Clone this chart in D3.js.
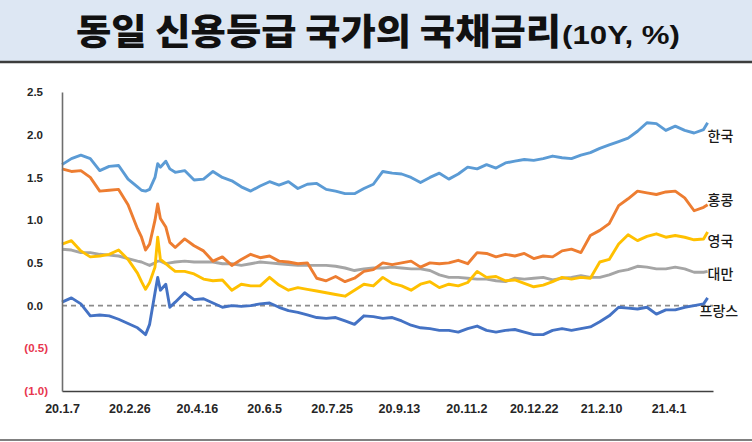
<!DOCTYPE html>
<html>
<head>
<meta charset="utf-8">
<script src="https://cdn.jsdelivr.net/npm/d3@7"></script>
<style>
  body { margin: 0; background: #fff; }
  svg { display: block; }
</style>
</head>
<body>
<svg id="paper"></svg>
<script>
// weekly samples (extra points around the March 2020 spike)
var dates = [
  "2020-01-07","2020-01-14","2020-01-21","2020-01-28","2020-02-04","2020-02-11","2020-02-18","2020-02-25",
  "2020-03-03","2020-03-06","2020-03-09","2020-03-12","2020-03-16","2020-03-18","2020-03-20","2020-03-24",
  "2020-03-27","2020-03-31","2020-04-07","2020-04-14","2020-04-21","2020-04-28","2020-05-05","2020-05-12",
  "2020-05-19","2020-05-26","2020-06-02","2020-06-09","2020-06-16","2020-06-23","2020-06-30","2020-07-07",
  "2020-07-14","2020-07-21","2020-07-28","2020-08-04","2020-08-11","2020-08-18","2020-08-25","2020-09-01",
  "2020-09-08","2020-09-15","2020-09-22","2020-09-29","2020-10-06","2020-10-13","2020-10-20","2020-10-27",
  "2020-11-03","2020-11-10","2020-11-17","2020-11-24","2020-12-01","2020-12-08","2020-12-15","2020-12-22",
  "2020-12-29","2021-01-05","2021-01-12","2021-01-19","2021-01-26","2021-02-02","2021-02-09","2021-02-16",
  "2021-02-23","2021-03-02","2021-03-09","2021-03-16","2021-03-23","2021-03-30","2021-04-06","2021-04-13",
  "2021-04-20","2021-04-27","2021-04-30"
];

var korea = [
  1.65,1.72,1.76,1.72,1.58,1.63,1.64,1.48,1.39,1.35,
  1.34,1.36,1.50,1.66,1.62,1.69,1.60,1.56,1.58,1.47,
  1.48,1.57,1.50,1.46,1.39,1.34,1.40,1.45,1.41,1.45,
  1.37,1.42,1.43,1.36,1.34,1.31,1.31,1.37,1.42,1.57,
  1.55,1.54,1.50,1.44,1.50,1.55,1.48,1.54,1.62,1.60,
  1.65,1.61,1.67,1.69,1.71,1.70,1.72,1.75,1.73,1.72,
  1.76,1.79,1.84,1.88,1.92,1.96,2.04,2.14,2.13,2.05,
  2.10,2.05,2.02,2.06,2.14
];
var hongkong = [
  1.60,1.57,1.58,1.50,1.34,1.35,1.36,1.18,0.90,0.80,
  0.65,0.72,1.00,1.19,1.02,0.92,0.74,0.68,0.78,0.70,
  0.64,0.52,0.57,0.47,0.54,0.60,0.56,0.58,0.52,0.51,
  0.49,0.50,0.32,0.29,0.34,0.28,0.32,0.40,0.42,0.50,
  0.48,0.50,0.52,0.45,0.50,0.49,0.50,0.53,0.49,0.62,
  0.61,0.57,0.60,0.58,0.61,0.55,0.58,0.57,0.64,0.66,
  0.62,0.82,0.88,0.96,1.17,1.25,1.34,1.32,1.30,1.33,
  1.34,1.26,1.11,1.15,1.18
];
var uk = [
  0.72,0.76,0.64,0.57,0.58,0.60,0.65,0.54,0.38,0.28,
  0.19,0.27,0.45,0.80,0.54,0.49,0.45,0.40,0.40,0.37,
  0.31,0.29,0.30,0.18,0.25,0.23,0.23,0.33,0.24,0.18,
  0.21,0.19,0.17,0.15,0.13,0.11,0.18,0.25,0.23,0.33,
  0.26,0.23,0.18,0.25,0.28,0.21,0.25,0.23,0.27,0.40,
  0.33,0.34,0.29,0.30,0.26,0.22,0.24,0.28,0.33,0.31,
  0.33,0.32,0.51,0.54,0.72,0.83,0.76,0.81,0.84,0.80,
  0.82,0.80,0.77,0.78,0.86
];
var taiwan = [
  0.66,0.65,0.62,0.62,0.60,0.59,0.58,0.55,0.52,0.51,
  0.49,0.47,0.50,0.52,0.52,0.49,0.50,0.51,0.52,0.51,
  0.51,0.51,0.49,0.49,0.47,0.49,0.51,0.50,0.49,0.48,
  0.47,0.47,0.47,0.47,0.46,0.44,0.41,0.43,0.44,0.44,
  0.45,0.44,0.43,0.43,0.41,0.36,0.33,0.33,0.32,0.31,
  0.31,0.29,0.28,0.32,0.31,0.32,0.33,0.30,0.32,0.33,
  0.35,0.33,0.33,0.36,0.40,0.42,0.46,0.45,0.43,0.43,
  0.45,0.43,0.39,0.39,0.40
];
var france = [
  0.04,0.09,0.02,-0.12,-0.11,-0.12,-0.16,-0.21,-0.26,-0.30,
  -0.34,-0.22,0.15,0.33,0.18,0.25,-0.02,0.04,0.15,0.07,
  0.08,0.03,-0.02,0.00,-0.01,0.00,0.02,0.03,-0.02,-0.06,
  -0.08,-0.11,-0.14,-0.15,-0.14,-0.18,-0.22,-0.12,-0.13,-0.15,
  -0.14,-0.18,-0.23,-0.26,-0.27,-0.29,-0.29,-0.31,-0.27,-0.24,
  -0.29,-0.31,-0.29,-0.28,-0.31,-0.34,-0.34,-0.29,-0.27,-0.29,
  -0.27,-0.25,-0.19,-0.12,-0.02,-0.03,-0.04,-0.02,-0.10,-0.05,
  -0.05,-0.02,0.00,0.02,0.09
];

var xTicks = ["2020-01-07","2020-02-26","2020-04-16","2020-06-05","2020-07-25","2020-09-13",
              "2020-11-02","2020-12-22","2021-02-10","2021-04-01"];
var yTicks = [-1.0, -0.5, 0.0, 0.5, 1.0, 1.5, 2.0, 2.5];

// drawing order, colours and label nudges
var series = [
  {name: "대만",   values: taiwan,   color: "#a5a5a5", dx: 0,  dy: 8},
  {name: "한국",   values: korea,    color: "#5b9bd5", dx: 0,  dy: 18},
  {name: "홍콩",   values: hongkong, color: "#ed7d31", dx: 0,  dy: 0},
  {name: "영국",   values: uk,       color: "#ffc000", dx: 0,  dy: 14},
  {name: "프랑스", values: france,   color: "#4472c4", dx: -8, dy: 18}
];

var width = 752, height = 442;
var parse = d3.timeParse("%Y-%m-%d");

var svg = d3.select("#paper")
    .attr("width", width)
    .attr("height", height);

// title band
svg.append("rect")
    .attr("x", 0).attr("y", 0)
    .attr("width", width).attr("height", 61)
    .attr("fill", "#dde7f3");
svg.append("line")
    .attr("x1", 0).attr("x2", width)
    .attr("y1", 62).attr("y2", 62)
    .attr("stroke", "#3c3c3c").attr("stroke-width", 2.5);
svg.append("line")
    .attr("x1", 0).attr("x2", width)
    .attr("y1", 440).attr("y2", 440)
    .attr("stroke", "#808080").attr("stroke-width", 2);

svg.append("text")
    .attr("x", 76).attr("y", 45)
    .attr("textLength", 485)
    .attr("lengthAdjust", "spacingAndGlyphs")
    .style("font-family", "'Noto Sans CJK KR', sans-serif")
    .style("font-weight", 900)
    .style("font-size", "36px")
    .attr("fill", "#111")
    .text("동일 신용등급 국가의 국채금리");
svg.append("text")
    .attr("x", 562).attr("y", 44)
    .attr("textLength", 118)
    .attr("lengthAdjust", "spacingAndGlyphs")
    .style("font-family", "'Liberation Sans Narrow', 'Liberation Sans', sans-serif")
    .style("font-weight", 700)
    .style("font-size", "25px")
    .attr("fill", "#111")
    .text("(10Y, %)");

// scales
var x = d3.scaleTime()
    .domain([parse("2020-01-07"), parse("2021-05-04")])
    .range([62, 713]);
var y = d3.scaleLinear()
    .domain([-1, 2.5])
    .range([391, 92]);

// zero line
svg.append("line")
    .attr("x1", x.range()[0]).attr("x2", x.range()[1])
    .attr("y1", y(0)).attr("y2", y(0))
    .attr("stroke", "#8c8c8c")
    .attr("stroke-width", 1.8)
    .attr("stroke-dasharray", "5,4");

// lines
var line = d3.line()
    .x(function (d) { return x(d.date); })
    .y(function (d) { return y(d.value); });

series.forEach(function (s) {
    s.points = dates.map(function (d, i) {
        return {date: parse(d), value: s.values[i]};
    });
    svg.append("path")
        .datum(s.points)
        .attr("fill", "none")
        .attr("stroke", s.color)
        .attr("stroke-width", 2.9)
        .attr("stroke-linejoin", "round")
        .attr("d", line);
});

// axes
var fmtDate = d3.timeFormat("%y.%-m.%-d");
var xAxis = svg.append("g")
    .attr("transform", "translate(0," + y(-1) + ")")
    .call(d3.axisBottom(x)
        .tickValues(xTicks.map(parse))
        .tickFormat(fmtDate)
        .tickSize(0)
        .tickSizeOuter(0)
        .tickPadding(13));
xAxis.select(".domain").attr("stroke", "#404040").attr("stroke-width", 1.6);
xAxis.selectAll("text")
    .style("font-family", "'Liberation Sans', Arial, sans-serif")
    .style("font-weight", 700)
    .style("font-size", "12.5px")
    .attr("fill", "#262626");

var yAxis = svg.append("g")
    .attr("transform", "translate(" + x.range()[0] + ",0)")
    .call(d3.axisLeft(y)
        .tickValues(yTicks)
        .tickFormat(function (v) {
            return v < 0 ? "(" + Math.abs(v).toFixed(1) + ")" : v.toFixed(1);
        })
        .tickSize(0)
        .tickSizeOuter(0)
        .tickPadding(14));
yAxis.select(".domain").attr("stroke", "#6e6e6e").attr("stroke-width", 1.6);
yAxis.selectAll(".tick text")
    .style("font-family", "'Liberation Sans', Arial, sans-serif")
    .style("font-weight", 700)
    .style("font-size", "11.5px")
    .attr("fill", function (v) { return v < 0 ? "#e8364e" : "#262626"; })
    .attr("x", function (v) { return v < 0 ? -14 : -19; });

// series labels at the line ends
series.forEach(function (s) {
    var last = s.points[s.points.length - 1];
    svg.append("text")
        .attr("x", x(last.date) + s.dx)
        .attr("y", y(last.value) + s.dy)
        .style("font-family", "'Noto Sans CJK KR', sans-serif")
        .style("font-weight", 500)
        .style("font-size", "14px")
        .attr("fill", "#1a1a1a")
        .text(s.name);
});
</script>
</body>
</html>
